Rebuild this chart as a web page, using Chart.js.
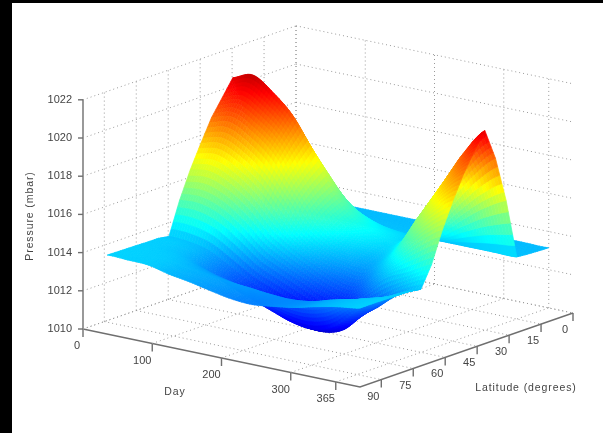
<!DOCTYPE html>
<html lang="en">
<head>
    <meta charset="UTF-8">
    <title>Pressure surface</title>
    <script src="https://cdn.jsdelivr.net/npm/chart.js"></script>
    <style>
        html, body { margin: 0; height: 100%; background: #000; overflow: hidden; }
        #wrap { position: absolute; left: 12px; top: 3px; width: 591px; height: 430px; background: #fff; }
        canvas { filter: blur(0.6px); }
    </style>
</head>
<body>
    <div id="wrap"><canvas id="chart" width="591" height="430"></canvas></div>
    <script>
        const dayTicks = [0, 100, 200, 300, 365];
        const latTicks = [0, 15, 30, 45, 60, 75, 90];
        const pressureTicks = [1010, 1012, 1014, 1016, 1018, 1020, 1022];

        const days = [1, 30, 60, 90, 120, 150, 180, 210, 240, 270, 300, 330, 365];
        const lats = [0, 5, 10, 15, 20, 25, 30, 35, 40, 45, 50, 55, 60, 65, 70, 75, 80, 85, 89];
        // one row per latitude, one column per day (mbar)
        const pressure = [
            [1013.15, 1013.15, 1013.15, 1013.15, 1013.15, 1013.15, 1013.15, 1013.15, 1013.15, 1013.15, 1013.15, 1013.15, 1013.15],
            [1013.17, 1013.17, 1013.17, 1013.17, 1013.17, 1013.17, 1013.17, 1013.17, 1013.17, 1013.17, 1013.17, 1013.17, 1013.17],
            [1013.2, 1013.2, 1013.2, 1013.2, 1013.2, 1013.2, 1013.2, 1013.2, 1013.2, 1013.2, 1013.2, 1013.2, 1013.2],
            [1013.25, 1013.25, 1013.25, 1013.25, 1013.25, 1013.25, 1013.25, 1013.25, 1013.25, 1013.25, 1013.25, 1013.25, 1013.25],
            [1016.4, 1016.56, 1016.25, 1015.78, 1015.01, 1014.23, 1013.77, 1013.55, 1013.46, 1013.92, 1014.85, 1015.69, 1016.4],
            [1018.8, 1019.08, 1018.53, 1017.7, 1016.33, 1014.95, 1014.13, 1013.74, 1013.58, 1014.4, 1016.05, 1017.54, 1018.8],
            [1020.45, 1020.81, 1020.09, 1019.02, 1017.23, 1015.45, 1014.37, 1013.87, 1013.66, 1014.73, 1016.88, 1018.81, 1020.45],
            [1019.6, 1019.92, 1019.28, 1018.31, 1016.72, 1015.13, 1014.17, 1013.71, 1013.52, 1014.48, 1016.4, 1018.1, 1019.55],
            [1018.75, 1019.01, 1018.44, 1017.54, 1016.1, 1014.68, 1013.8, 1013.36, 1013.17, 1014.05, 1015.83, 1017.32, 1018.55],
            [1017.6, 1017.8, 1017.29, 1016.44, 1015.17, 1013.94, 1013.3, 1012.95, 1012.8, 1013.6, 1014.95, 1016.3, 1017.35],
            [1016.4, 1016.53, 1016.08, 1015.27, 1014.16, 1013.4, 1012.8, 1012.3, 1012.1, 1013.0, 1014.0, 1015.06, 1016.0],
            [1015.0, 1015.04, 1014.68, 1013.94, 1013.04, 1012.5, 1012.0, 1011.5, 1011.3, 1012.2, 1013.2, 1013.72, 1014.4],
            [1013.3, 1013.24, 1013.0, 1012.41, 1011.82, 1011.38, 1010.94, 1010.55, 1010.42, 1011.1, 1011.82, 1012.71, 1013.3],
            [1013.4, 1013.34, 1013.08, 1012.44, 1011.8, 1011.32, 1010.84, 1010.45, 1010.32, 1010.68, 1011.8, 1012.76, 1013.4],
            [1013.4, 1013.34, 1013.12, 1012.56, 1012.0, 1011.58, 1011.16, 1010.78, 1010.66, 1011.02, 1012.0, 1012.84, 1013.4],
            [1013.42, 1013.39, 1013.27, 1012.97, 1012.67, 1012.44, 1012.22, 1011.99, 1011.92, 1012.14, 1012.67, 1013.12, 1013.42],
            [1013.43, 1013.41, 1013.34, 1013.15, 1012.98, 1012.82, 1012.73, 1012.62, 1012.58, 1012.71, 1013.02, 1013.25, 1013.43],
            [1013.44, 1013.42, 1013.36, 1013.14, 1012.96, 1012.77, 1012.62, 1012.53, 1012.58, 1012.72, 1013.02, 1013.25, 1013.43],
            [1013.45, 1013.42, 1013.38, 1013.13, 1012.95, 1012.72, 1012.52, 1012.45, 1012.58, 1012.75, 1013.02, 1013.25, 1013.43]
        ];

        const dayMax = 400, latMax = 100, zMin = 1010;
        const colorMin = 1009.4, colorMax = 1021.6;

        // fixed oblique view: page coordinates of a (day, latitude, pressure) point
        function project(day, lat, z) {
            const m = latMax - lat;
            return {
                x: 83 + day / dayMax * 277 + m / latMax * 213,
                y: 329 + day / dayMax * 58 - m / latMax * 74 - (z - zMin) * 19.1
            };
        }

        function jet(v) {
            const t = Math.max(0, Math.min(1, v));
            const ch = c => Math.round(255 * Math.max(0, Math.min(1, 1.5 - Math.abs(4 * t - c))));
            return `rgb(${ch(3)},${ch(2)},${ch(1)})`;
        }

        function gridLine(points) {
            return {
                data: points,
                showLine: true,
                borderColor: '#9a9a9a',
                borderWidth: 1,
                borderDash: [1, 3],
                pointRadius: 0
            };
        }

        function axisLine(points) {
            return {
                data: points,
                showLine: true,
                borderColor: '#6f6f6f',
                borderWidth: 1.4,
                pointRadius: 0
            };
        }

        const zTop = pressureTicks[pressureTicks.length - 1];
        const datasets = [];

        // walls and floor
        pressureTicks.forEach(z => {
            datasets.push(gridLine([project(0, 100, z), project(0, 0, z)]));
            datasets.push(gridLine([project(0, 0, z), project(400, 0, z)]));
        });
        latTicks.forEach(lat => {
            datasets.push(gridLine([project(0, lat, zMin), project(0, lat, zTop)]));
            datasets.push(gridLine([project(0, lat, zMin), project(400, lat, zMin)]));
        });
        dayTicks.forEach(day => {
            datasets.push(gridLine([project(day, 0, zMin), project(day, 0, zTop)]));
            datasets.push(gridLine([project(day, 100, zMin), project(day, 0, zMin)]));
        });

        // axes and tick marks
        datasets.push(axisLine([project(0, 100, zTop), project(0, 100, zMin)]));
        datasets.push(axisLine([project(0, 100, zMin), project(400, 100, zMin), project(400, 0, zMin)]));
        pressureTicks.forEach(z => {
            const p = project(0, 100, z);
            datasets.push(axisLine([{ x: p.x - 5, y: p.y }, p]));
        });
        dayTicks.forEach(day => {
            const p = project(day, 100, zMin);
            datasets.push(axisLine([p, { x: p.x, y: p.y + 8 }]));
        });
        latTicks.forEach(lat => {
            const p = project(400, lat, zMin);
            datasets.push(axisLine([p, { x: p.x, y: p.y + 8 }]));
        });

        // surface nodes, filled by the plugin below
        const nodes = [];
        lats.forEach((lat, i) => {
            days.forEach((day, j) => {
                const p = project(day, lat, pressure[i][j]);
                nodes.push({ x: p.x, y: p.y, z: pressure[i][j] });
            });
        });
        const surfaceIndex = datasets.length;
        datasets.push({ data: nodes, pointRadius: 0, showLine: false });

        // same idea as a line's tension, only along the day direction
        function spline(a, b, c, d, u) {
            return 0.5 * (2 * b + (c - a) * u + (2 * a - 5 * b + 4 * c - d) * u * u + (3 * b - a - 3 * c + d) * u * u * u);
        }

        const surfacePlugin = {
            id: 'surface',
            afterDatasetsDraw(chart) {
                const ctx = chart.ctx;
                const pts = chart.getDatasetMeta(surfaceIndex).data;
                const cols = days.length;
                const subX = 8, subY = 5;

                function alongRow(r, c, u) {
                    const i0 = Math.max(c - 1, 0), i3 = Math.min(c + 2, cols - 1);
                    const n = i => pts[r * cols + i];
                    const v = i => nodes[r * cols + i].z;
                    return {
                        x: n(c).x + (n(c + 1).x - n(c).x) * u,
                        y: spline(n(i0).y, n(c).y, n(c + 1).y, n(i3).y, u),
                        z: spline(v(i0), v(c), v(c + 1), v(i3), u)
                    };
                }

                function corner(r, c, u, v) {
                    const a = alongRow(r, c, u), b = alongRow(r + 1, c, u);
                    return {
                        x: a.x + (b.x - a.x) * v,
                        y: a.y + (b.y - a.y) * v,
                        z: a.z + (b.z - a.z) * v
                    };
                }

                ctx.save();
                ctx.lineWidth = 0.7;
                // far corner first, near corner last
                for (let r = 0; r < lats.length - 1; r++) {
                    for (let sv = 0; sv < subY; sv++) {
                        for (let c = 0; c < cols - 1; c++) {
                            for (let su = 0; su < subX; su++) {
                                const u0 = su / subX, u1 = (su + 1) / subX, v0 = sv / subY, v1 = (sv + 1) / subY;
                                const a = corner(r, c, u0, v0), b = corner(r, c, u1, v0);
                                const e = corner(r, c, u1, v1), f = corner(r, c, u0, v1);
                                const z = (a.z + b.z + e.z + f.z) / 4;
                                const col = jet((z - colorMin) / (colorMax - colorMin));
                                ctx.fillStyle = col;
                                ctx.strokeStyle = col;
                                ctx.beginPath();
                                ctx.moveTo(a.x, a.y);
                                ctx.lineTo(b.x, b.y);
                                ctx.lineTo(e.x, e.y);
                                ctx.lineTo(f.x, f.y);
                                ctx.closePath();
                                ctx.fill();
                                ctx.stroke();
                            }
                        }
                    }
                }
                ctx.restore();
            }
        };

        const labelPlugin = {
            id: 'labels',
            afterDraw(chart) {
                const ctx = chart.ctx;
                const sx = v => chart.scales.x.getPixelForValue(v);
                const sy = v => chart.scales.y.getPixelForValue(v);
                ctx.save();
                ctx.fillStyle = '#444';
                ctx.font = '11px "Liberation Sans", Arial, sans-serif';
                ctx.textBaseline = 'middle';

                ctx.textAlign = 'right';
                pressureTicks.forEach(z => {
                    const p = project(0, 100, z);
                    ctx.fillText(String(z), sx(p.x - 11), sy(p.y));
                });
                ctx.textAlign = 'center';
                dayTicks.forEach(day => {
                    const p = project(day, 100, zMin);
                    ctx.fillText(String(day), sx(p.x - (day === 0 ? 6 : 10)), sy(p.y + 17));
                });
                latTicks.forEach(lat => {
                    const p = project(400, lat, zMin);
                    ctx.fillText(String(lat), sx(p.x - 8), sy(p.y + 17));
                });

                ctx.font = '10.5px "Liberation Sans", Arial, sans-serif';
                ctx.letterSpacing = '0.9px';
                ctx.fillText('Day', sx(175), sy(392));
                ctx.fillText('Latitude (degrees)', sx(526), sy(388));
                ctx.translate(sx(30), sy(216));
                ctx.rotate(-Math.PI / 2);
                ctx.fillText('Pressure (mbar)', 0, 0);
                ctx.restore();
            }
        };

        new Chart(document.getElementById('chart'), {
            type: 'scatter',
            data: { datasets: datasets },
            plugins: [surfacePlugin, labelPlugin],
            options: {
                responsive: false,
                animation: false,
                layout: { padding: 0 },
                plugins: { legend: { display: false }, tooltip: { enabled: false } },
                scales: {
                    x: { type: 'linear', display: false, min: 12, max: 603 },
                    y: { type: 'linear', display: false, reverse: true, min: 3, max: 433 }
                }
            }
        });
    </script>
</body>
</html>
